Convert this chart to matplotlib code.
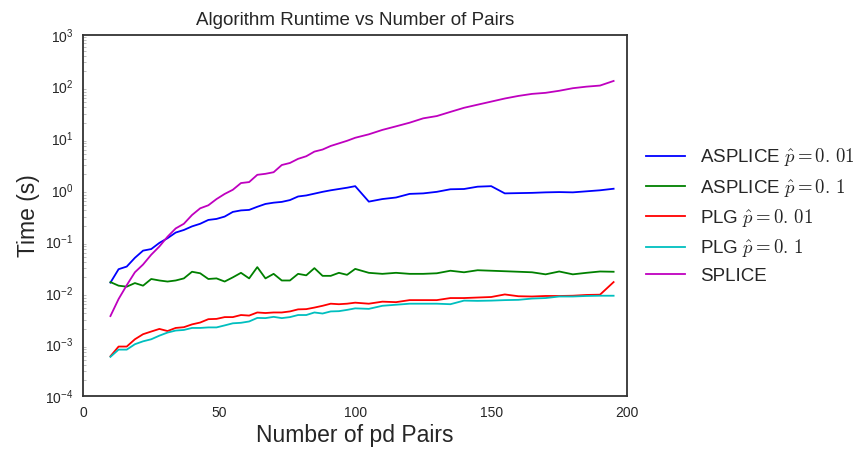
import matplotlib
matplotlib.use('Agg')
import matplotlib.pyplot as plt

# Number of pd pairs (step 3 up to 100, then step 5)
pairs = [10, 13, 16, 19, 22, 25, 28, 31, 34, 37, 40, 43, 46, 49, 52, 55, 58, 61, 64, 67,
         70, 73, 76, 79, 82, 85, 88, 91, 94, 97, 100, 105, 110, 115, 120, 125, 130, 135, 140, 145,
         150, 155, 160, 165, 170, 175, 180, 185, 190, 195]

# Runtimes in seconds
asplice_001 = [0.0158, 0.0288, 0.0324, 0.0479, 0.066, 0.0708, 0.0933, 0.115, 0.148, 0.166,
               0.195, 0.219, 0.26, 0.272, 0.302, 0.372, 0.398, 0.407, 0.468, 0.531,
               0.562, 0.582, 0.631, 0.741, 0.776, 0.841, 0.912, 0.977, 1.035, 1.096,
               1.175, 0.589, 0.661, 0.708, 0.832, 0.851, 0.912, 1.023, 1.035, 1.148,
               1.175, 0.851, 0.861, 0.871, 0.891, 0.902, 0.891, 0.933, 0.977, 1.047]
asplice_01 = [0.0162, 0.0138, 0.0132, 0.0155, 0.0138, 0.0186, 0.0174, 0.0166, 0.0174, 0.0191,
              0.0257, 0.024, 0.0186, 0.0191, 0.0166, 0.02, 0.0245, 0.0191, 0.0316, 0.0191,
              0.0234, 0.0174, 0.0174, 0.0234, 0.0219, 0.0302, 0.0214, 0.0214, 0.0245, 0.0224,
              0.0292, 0.0245, 0.0234, 0.0245, 0.0234, 0.0234, 0.024, 0.0269, 0.0251, 0.0275,
              0.0269, 0.0263, 0.0257, 0.0251, 0.0229, 0.026, 0.0229, 0.0245, 0.026, 0.0257]
plg_001 = [0.00059, 0.00091, 0.00091, 0.00126, 0.00158, 0.00178, 0.002, 0.00182, 0.00209, 0.00216,
           0.00245, 0.00266, 0.00309, 0.00313, 0.00339, 0.00339, 0.00372, 0.00363, 0.00417, 0.00407,
           0.00417, 0.00417, 0.00437, 0.00479, 0.00484, 0.00519, 0.00562, 0.00617, 0.00603, 0.00617,
           0.00646, 0.00617, 0.00676, 0.00661, 0.00724, 0.00724, 0.00724, 0.00794, 0.00794, 0.00813,
           0.00832, 0.00933, 0.00861, 0.00851, 0.00871, 0.00871, 0.00881, 0.00912, 0.00923, 0.0162]
plg_01 = [0.000575, 0.000794, 0.000794, 0.00101, 0.00115, 0.00126, 0.00148, 0.0017, 0.00186, 0.00191,
          0.00209, 0.00209, 0.00214, 0.00214, 0.00234, 0.00257, 0.00263, 0.00279, 0.00327, 0.00324,
          0.00343, 0.00324, 0.00339, 0.00372, 0.00372, 0.00417, 0.00398, 0.00437, 0.00442, 0.00468,
          0.00501, 0.0049, 0.00562, 0.00589, 0.00617, 0.00617, 0.00617, 0.00603, 0.00708, 0.007,
          0.00708, 0.00724, 0.00733, 0.00776, 0.00794, 0.00851, 0.00851, 0.00871, 0.00881, 0.00881]
splice = [0.00355, 0.0076, 0.0141, 0.0251, 0.0355, 0.055, 0.0794, 0.123, 0.178, 0.219,
          0.324, 0.437, 0.50, 0.66, 0.83, 1.0, 1.35, 1.41, 1.95, 2.04,
          2.19, 3.02, 3.31, 3.98, 4.47, 5.5, 6.03, 7.08, 7.94, 8.91,
          10.2, 11.9, 14.5, 17.0, 20.0, 24.3, 26.9, 32.4, 38.9, 44.7,
          51.3, 58.9, 66.1, 72.4, 75.9, 83.2, 93.3, 100.0, 105.0, 129.0]

series = [
    (asplice_001, 'b', r'ASPLICE $\hat{p}=0.\,01$'),
    (asplice_01, 'g', r'ASPLICE $\hat{p}=0.\,1$'),
    (plg_001, 'r', r'PLG $\hat{p}=0.\,01$'),
    (plg_01, 'c', r'PLG $\hat{p}=0.\,1$'),
    (splice, 'm', 'SPLICE'),
]

plt.rcParams['font.family'] = ['Liberation Sans', 'DejaVu Sans']
plt.rcParams['mathtext.fontset'] = 'cm'
plt.rcParams['text.color'] = '.15'
plt.rcParams['axes.labelcolor'] = '.15'
plt.rcParams['xtick.color'] = '.15'
plt.rcParams['ytick.color'] = '.15'

fig = plt.figure(figsize=(8.58, 4.5), dpi=100)
ax = fig.add_axes([0.097, 0.12, 0.634, 0.802])

for vals, col, lab in series:
    ax.plot(pairs, vals, color=col, lw=1.3, label=lab)

ax.set_yscale('log')
ax.set_xlim(0, 200)
ax.set_ylim(1e-4, 1e3)
ax.set_xticks([0, 50, 100, 150, 200])
ax.tick_params(which='major', length=0, labelsize=10, pad=7)
ax.tick_params(which='minor', length=2, direction='in', color='.7', width=0.6)
for sp in ax.spines.values():
    sp.set_color('.2')
    sp.set_linewidth(1.3)

ax.set_title('Algorithm Runtime vs Number of Pairs', fontsize=13.5, pad=7)
ax.set_xlabel('Number of pd Pairs', fontsize=16.5, labelpad=3)
ax.set_ylabel('Time (s)', fontsize=16.5, labelpad=4)

ax.legend(loc='center left', bbox_to_anchor=(1.0, 0.5), frameon=False, fontsize=13.5,
          handlelength=2.1, handletextpad=0.8, labelspacing=0.45, borderaxespad=0.6)

fig.savefig('out.png', dpi=100)
